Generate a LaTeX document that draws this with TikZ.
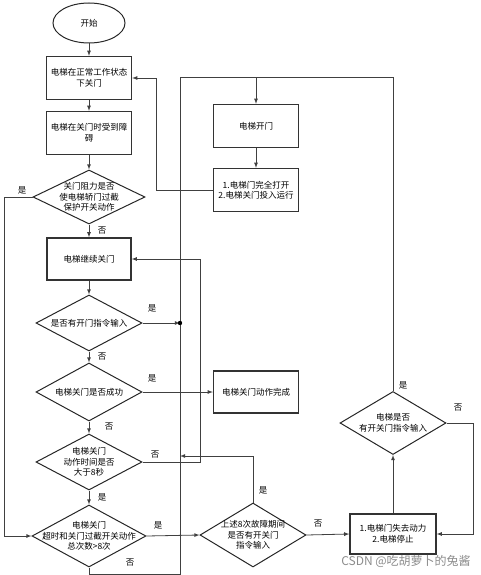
\documentclass[tikz,border=0pt]{standalone}
\usepackage{fontspec}
\setmainfont{Noto Sans CJK SC}
\usetikzlibrary{shapes.geometric}

\tikzset{
  box/.style={draw=black!80,line width=1.3pt,minimum width=85pt,minimum height=43pt,
    inner sep=1pt,align=center,font=\fontsize{8.5}{10.5}\selectfont},
  decision/.style={diamond,draw=black!85,line width=1pt,inner sep=0pt,
    label={[align=center,font=\fontsize{8.5}{10.5}\selectfont]center:#1}},
  startstop/.style={ellipse,draw=black!85,line width=1pt,minimum width=72pt,
    minimum height=40pt,font=\fontsize{8.5}{10.5}\selectfont},
  link/.style={draw=black!75,line width=0.8pt},
  lbl/.style={font=\fontsize{8.5}{10.5}\selectfont,inner sep=0pt}
}

\begin{document}
\begin{tikzpicture}[x=1pt,y=-1pt,>=latex]
\useasboundingbox (0,0) rectangle (480,575);

% left column
\node[startstop] (start) at (89,23) {开始};
\node[box] (b1) at (89,78) {电梯在正常工作状态\\下关门};
\node[box] (b2) at (89,133) {电梯在关门时受到障\\碍};
\node[decision={关门阻力是否\\使电梯轿门过截\\保护开关动作},minimum width=112pt,minimum height=54pt] (d1) at (89,197) {};
\node[box,minimum width=84pt,minimum height=42pt] (b3) at (89,259) {电梯继续关门};
\node[decision={是否有开门指令输入},minimum width=106pt,minimum height=56pt] (d2) at (89,323) {};
\node[decision={电梯关门是否成功},minimum width=106pt,minimum height=58pt] (d3) at (89,392) {};
\node[decision={电梯关门\\动作时间是否\\大于8秒},minimum width=106pt,minimum height=56pt] (d4) at (89,462) {};
\node[decision={电梯关门\\超时和关门过截开关动作\\总次数>8次},minimum width=114pt,minimum height=62pt] (d5) at (89,536) {};

% middle and right
\node[box] (bopen) at (256,126) {电梯开门};
\node[box] (brun) at (256,190) {1.电梯门完全打开\\2.电梯关门投入运行};
\node[box,minimum height=42pt] (bdone) at (256,392) {电梯关门动作完成};
\node[decision={上述8次故障期间\\是否有开关门\\指令输入},minimum width=106pt,minimum height=64pt] (d6) at (253,535) {};
\node[box,minimum width=86pt,minimum height=40pt] (bstop) at (393,534) {1.电梯门失去动力\\2.电梯停止};
\node[decision={电梯是否\\有开关门指令输入},minimum width=106pt,minimum height=63pt] (d7) at (393,423) {};

\coordinate (topl) at (180,77);
\coordinate (j1) at (180,323);
\coordinate (j2) at (180,456);

% connectors
\draw[link,->] (start) -- (b1);
\draw[link,->] (b1) -- (b2);
\draw[link,->] (b2) -- (d1);
\draw[link,->] (d1) -- (b3);
\draw[link,->] (b3) -- (d2);
\draw[link,->] (d2) -- (d3);
\draw[link,->] (d3) -- (d4);
\draw[link,->] (d4) -- (d5);
\draw[link,->] (d1.west) -- ++(-28,0) |- (d5.west);
\draw[link,->] (d2.east) -- (j1);
\draw[link,->] (d3.east) -- (bdone.west);
\draw[link,->] (d4.east) -- ++(58,0) |- (b3.east);
\draw[link,->] (d5.east) -- (d6.west);
\draw[link,->] (d5.south) -- ++(0,7) -| (topl) -| (bopen.north);
\draw[link,->] (d6.north) |- (j2);
\draw[link,->] (d6.east) -- (bstop.west);
\draw[link,->] (bstop.north) -- (d7.south);
\draw[link] (d7.north) |- (topl);
\draw[link,->] (d7.east) -- ++(27,0) |- (bstop.east);
\draw[link,->] (bopen) -- (brun);
\draw[link,->] (brun.west) -- ++(-56,0) |- (b1.east);
\fill (j1) circle (2.2pt);

% branch labels
\node[lbl] (y1) at (22,190) {是};
\node[lbl] (n1) at (102,231) {否};
\node[lbl] (y2) at (152,308) {是};
\node[lbl] (n2) at (102,357) {否};
\node[lbl] (y3) at (152,378) {是};
\node[lbl] (n3) at (109,427) {否};
\node[lbl] (n4) at (155,455) {否};
\node[lbl] (y4) at (102,497) {是};
\node[lbl] (y5) at (158,525) {是};
\node[lbl] (n5) at (130,563) {否};
\node[lbl] (y6) at (263,490) {是};
\node[lbl] (n6) at (318,524) {否};
\node[lbl] (y7) at (403,385) {是};
\node[lbl] (n7) at (458,408) {否};

\node[font=\fontsize{12}{14}\selectfont,text=black!45,inner sep=0pt] (mark) at (406,561) {CSDN @吃胡萝卜的兔酱};
\end{tikzpicture}
\end{document}
